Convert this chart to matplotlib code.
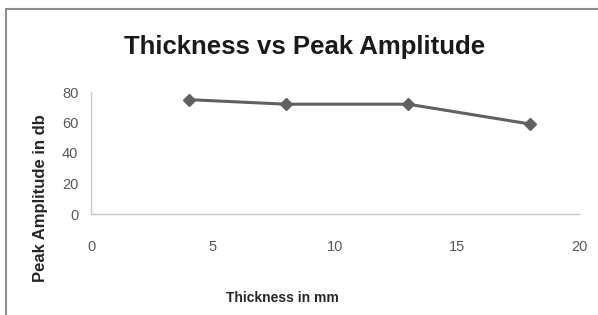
import matplotlib.pyplot as plt
import matplotlib.patches as patches

# data
thickness = [4, 8, 13, 18]
peak_amp = [75, 72, 72, 59]
x_ticks = [0, 5, 10, 15, 20]
y_ticks = [0, 20, 40, 60, 80]

plt.rcParams['font.family'] = ['Liberation Sans', 'DejaVu Sans']

fig = plt.figure(figsize=(5.98, 3.15), dpi=100)

# outer chart frame (cut off at right/bottom)
frame = patches.Rectangle((6 / 598, -0.1), 1.2, (315 - 9) / 315 + 0.1,
                          transform=fig.transFigure, fill=False,
                          edgecolor='#8c8c8c', linewidth=1.5)
fig.patches.append(frame)

ax = fig.add_axes([91 / 598, (315 - 214) / 315, 488 / 598, 122 / 315])
ax.plot(thickness, peak_amp, color='#606060', linewidth=2.2,
        marker='D', markersize=6, markerfacecolor='#606060',
        markeredgecolor='#606060', clip_on=False)

ax.set_xlim(0, 20)
ax.set_ylim(0, 80)
ax.set_xticks(x_ticks)
ax.set_yticks(y_ticks)
ax.tick_params(length=0, labelsize=10.5, labelcolor='#595959')
ax.tick_params(axis='x', pad=19)
ax.tick_params(axis='y', pad=9)
for s in ['top', 'right']:
    ax.spines[s].set_visible(False)
for s in ['left', 'bottom']:
    ax.spines[s].set_color('#c8c8c8')
    ax.spines[s].set_linewidth(1.0)

fig.text(305 / 598, 1 - 47 / 315, 'Thickness vs Peak Amplitude',
         ha='center', va='center', fontsize=18.5, fontweight='bold',
         color='#1a1a1a')
fig.text(41 / 598, 1 - 198 / 315, 'Peak Amplitude in db', rotation=90,
         ha='center', va='center', fontsize=12, fontweight='bold',
         color='#262626')
fig.text(282 / 598, 1 - 298 / 315, 'Thickness in mm',
         ha='center', va='center', fontsize=10, fontweight='bold',
         color='#262626')

fig.savefig('out.png', dpi=100, facecolor='white')
